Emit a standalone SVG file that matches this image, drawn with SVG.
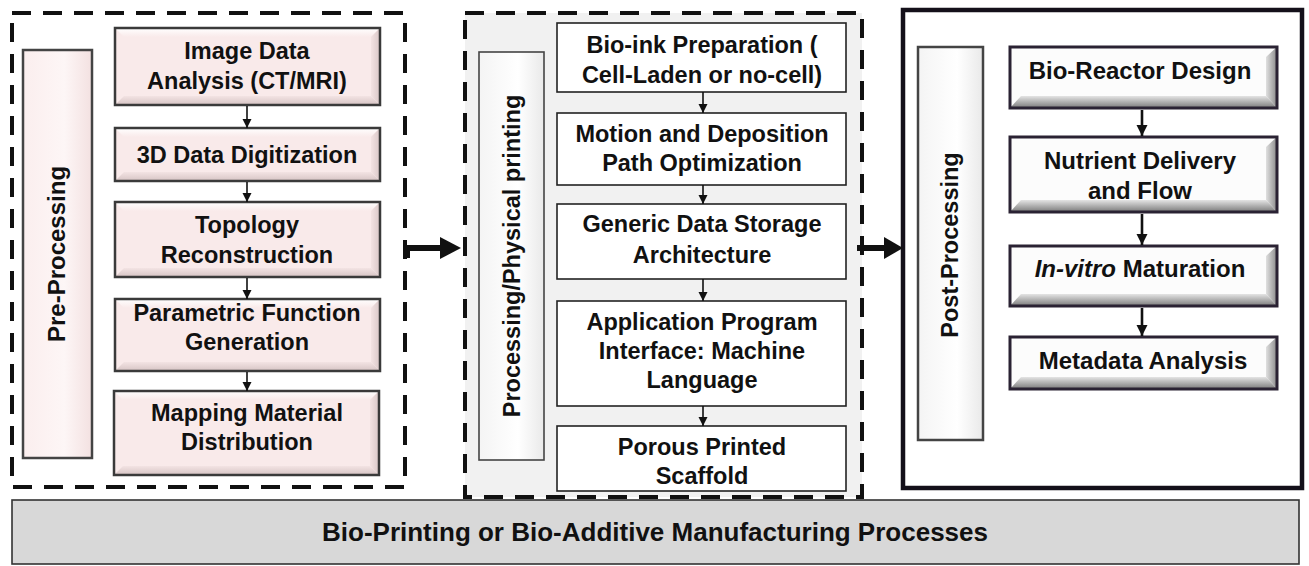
<svg xmlns="http://www.w3.org/2000/svg" width="1309" height="566" viewBox="0 0 1309 566">
<style>
text{font-family:"Liberation Sans",Arial,Helvetica,sans-serif;font-weight:bold;fill:#111;text-anchor:middle}
.t23{font-size:23.5px}
.t24{font-size:24px}
.dash{fill:none;stroke:#111;stroke-width:4;stroke-dasharray:19 12}
.pinkface{fill:#f9eaea}
.pinkborder{fill:none;stroke:#3a3a3a;stroke-width:2.5}
.whitebox{fill:#fff;stroke:#222;stroke-width:1.6}
.grayface{fill:#fcfcfc}
.grayborder{fill:none;stroke:#2a2233;stroke-width:3}
.conn{stroke:#111;stroke-width:1.6;fill:none;marker-end:url(#ah)}
.conn2{stroke:#111;stroke-width:2.6;fill:none;marker-end:url(#ah2)}
.big{stroke:#111;stroke-width:6;fill:none}
</style>
<defs>
<linearGradient id="pBot" x1="0" y1="0" x2="0" y2="1"><stop offset="0" stop-color="#f3e3e3"/><stop offset="1" stop-color="#d6c4c4"/></linearGradient>
<linearGradient id="pRight" x1="0" y1="0" x2="1" y2="0"><stop offset="0" stop-color="#f3e3e3"/><stop offset="1" stop-color="#d9c7c7"/></linearGradient>
<linearGradient id="pTop" x1="0" y1="0" x2="0" y2="1"><stop offset="0" stop-color="#ffffff"/><stop offset="1" stop-color="#f9eaea"/></linearGradient>
<linearGradient id="gBot" x1="0" y1="0" x2="0" y2="1"><stop offset="0" stop-color="#e4e4e4"/><stop offset="1" stop-color="#7a7a7a"/></linearGradient>
<linearGradient id="gRight" x1="0" y1="0" x2="1" y2="0"><stop offset="0" stop-color="#e0e0e0"/><stop offset="1" stop-color="#8a8a8a"/></linearGradient>
<linearGradient id="vPink" x1="0" y1="0" x2="1" y2="0"><stop offset="0" stop-color="#fbeeee"/><stop offset="0.6" stop-color="#fdf6f6"/><stop offset="1" stop-color="#f3e1e1"/></linearGradient>
<linearGradient id="vGray" x1="0" y1="0" x2="1" y2="0"><stop offset="0" stop-color="#f4f4f4"/><stop offset="0.6" stop-color="#ffffff"/><stop offset="1" stop-color="#e9e9e9"/></linearGradient>
<marker id="ah" markerUnits="userSpaceOnUse" markerWidth="10" markerHeight="10" refX="9" refY="5" orient="auto"><path d="M0,0.5 L9,5 L0,9.5 z" fill="#111"/></marker>
<marker id="ah2" markerUnits="userSpaceOnUse" markerWidth="12" markerHeight="12" refX="11" refY="6" orient="auto"><path d="M0,0.5 L11,6 L0,11.5 z" fill="#111"/></marker>
</defs>

<!-- containers -->
<g id="container-pre">
<rect class="dash" x="12" y="13" width="393" height="474"/>
</g>
<g id="container-proc">
<rect x="465" y="13" width="397" height="484" fill="#f1f1f1"/>
<rect class="dash" x="465" y="13" width="397" height="484"/>
</g>
<g id="container-post">
<rect x="903" y="10" width="399" height="478" fill="#fff" stroke="#14101a" stroke-width="4.5"/>
</g>

<!-- bottom bar -->
<g id="bottom-bar">
<rect x="12" y="500" width="1287" height="64" fill="#d8d8d8" stroke="#333" stroke-width="1.6"/>
<text x="655" y="541" style="font-size:26px">Bio-Printing or Bio-Additive Manufacturing Processes</text>
</g>

<!-- left column labels -->
<g id="label-pre">
<rect x="23" y="50" width="69" height="408" fill="url(#vPink)" stroke="#444" stroke-width="2.5"/>
<text class="t24" transform="translate(65,254) rotate(-90)">Pre-Processing</text>
</g>
<g id="label-proc">
<rect x="479" y="52" width="65" height="408" fill="url(#vGray)" stroke="#444" stroke-width="1.6"/>
<text class="t23" transform="translate(520,256) rotate(-90)">Processing/Physical printing</text>
</g>
<g id="label-post">
<rect x="918" y="47" width="65" height="393" fill="url(#vGray)" stroke="#444" stroke-width="2.5"/>
<text class="t23" transform="translate(958,245) rotate(-90)">Post-Processing</text>
</g>

<!-- pre-processing nodes -->
<g id="n-image">
<rect class="pinkface" x="115" y="28" width="265" height="77"/>
<polygon points="115,28 380,28 371,37 124,37" fill="url(#pTop)"/>
<polygon points="115,105 380,105 371,96 124,96" fill="url(#pBot)"/>
<polygon points="380,28 380,105 371,96 371,37" fill="url(#pRight)"/>
<rect class="pinkborder" x="115" y="28" width="265" height="77"/>
<text class="t23" x="247" y="59">Image Data</text>
<text class="t23" x="247" y="89">Analysis (CT/MRI)</text>
</g>
<g id="n-3d">
<rect class="pinkface" x="115" y="128" width="265" height="53"/>
<polygon points="115,128 380,128 371,137 124,137" fill="url(#pTop)"/>
<polygon points="115,181 380,181 371,172 124,172" fill="url(#pBot)"/>
<polygon points="380,128 380,181 371,172 371,137" fill="url(#pRight)"/>
<rect class="pinkborder" x="115" y="128" width="265" height="53"/>
<text class="t23" x="247" y="163">3D Data Digitization</text>
</g>
<g id="n-topology">
<rect class="pinkface" x="115" y="202" width="265" height="75"/>
<polygon points="115,202 380,202 371,211 124,211" fill="url(#pTop)"/>
<polygon points="115,277 380,277 371,268 124,268" fill="url(#pBot)"/>
<polygon points="380,202 380,277 371,268 371,211" fill="url(#pRight)"/>
<rect class="pinkborder" x="115" y="202" width="265" height="75"/>
<text class="t23" x="247" y="233">Topology</text>
<text class="t23" x="247" y="263">Reconstruction</text>
</g>
<g id="n-parametric">
<rect class="pinkface" x="115" y="299" width="265" height="72"/>
<polygon points="115,299 380,299 371,308 124,308" fill="url(#pTop)"/>
<polygon points="115,371 380,371 371,362 124,362" fill="url(#pBot)"/>
<polygon points="380,299 380,371 371,362 371,308" fill="url(#pRight)"/>
<rect class="pinkborder" x="115" y="299" width="265" height="72"/>
<text class="t23" x="247" y="321">Parametric Function</text>
<text class="t23" x="247" y="350">Generation</text>
</g>
<g id="n-mapping">
<rect class="pinkface" x="114" y="391" width="265" height="84"/>
<polygon points="114,391 379,391 370,400 123,400" fill="url(#pTop)"/>
<polygon points="114,475 379,475 370,466 123,466" fill="url(#pBot)"/>
<polygon points="379,391 379,475 370,466 370,400" fill="url(#pRight)"/>
<rect class="pinkborder" x="114" y="391" width="265" height="84"/>
<text class="t23" x="247" y="421">Mapping Material</text>
<text class="t23" x="247" y="450">Distribution</text>
</g>

<!-- processing nodes -->
<g id="n-bioink">
<rect class="whitebox" x="557" y="23" width="289" height="69"/>
<text class="t23" x="702" y="53">Bio-ink Preparation (</text>
<text class="t23" x="702" y="83">Cell-Laden or no-cell)</text>
</g>
<g id="n-motion">
<rect class="whitebox" x="557" y="113" width="289" height="72"/>
<text class="t23" x="702" y="142">Motion and Deposition</text>
<text class="t23" x="702" y="171">Path Optimization</text>
</g>
<g id="n-generic">
<rect class="whitebox" x="557" y="204" width="289" height="75"/>
<text class="t23" x="702" y="232">Generic Data Storage</text>
<text class="t23" x="702" y="263">Architecture</text>
</g>
<g id="n-api">
<rect class="whitebox" x="557" y="301" width="289" height="105"/>
<text class="t23" x="702" y="330">Application Program</text>
<text class="t23" x="702" y="359">Interface: Machine</text>
<text class="t23" x="702" y="388">Language</text>
</g>
<g id="n-porous">
<rect class="whitebox" x="557" y="426" width="289" height="65"/>
<text class="t23" x="702" y="455">Porous Printed</text>
<text class="t23" x="702" y="484">Scaffold</text>
</g>

<!-- post-processing nodes -->
<g id="n-bioreactor">
<rect class="grayface" x="1010" y="47" width="267" height="61"/>
<polygon points="1010,108 1277,108 1266,96 1021,96" fill="url(#gBot)"/>
<polygon points="1277,47 1277,108 1266,96 1266,57" fill="url(#gRight)"/>
<rect class="grayborder" x="1010" y="47" width="267" height="61"/>
<text class="t24" x="1140" y="79">Bio-Reactor Design</text>
</g>
<g id="n-nutrient">
<rect class="grayface" x="1010" y="137" width="267" height="75"/>
<polygon points="1010,212 1277,212 1266,200 1021,200" fill="url(#gBot)"/>
<polygon points="1277,137 1277,212 1266,200 1266,147" fill="url(#gRight)"/>
<rect class="grayborder" x="1010" y="137" width="267" height="75"/>
<text class="t24" x="1140" y="169">Nutrient Delivery</text>
<text class="t24" x="1140" y="199">and Flow</text>
</g>
<g id="n-invitro">
<rect class="grayface" x="1010" y="246" width="267" height="60"/>
<polygon points="1010,306 1277,306 1266,294 1021,294" fill="url(#gBot)"/>
<polygon points="1277,246 1277,306 1266,294 1266,256" fill="url(#gRight)"/>
<rect class="grayborder" x="1010" y="246" width="267" height="60"/>
<text class="t24" x="1140" y="277"><tspan font-style="italic">In-vitro</tspan> Maturation</text>
</g>
<g id="n-metadata">
<rect class="grayface" x="1010" y="337" width="267" height="52"/>
<polygon points="1010,389 1277,389 1266,377 1021,377" fill="url(#gBot)"/>
<polygon points="1277,337 1277,389 1266,377 1266,347" fill="url(#gRight)"/>
<rect class="grayborder" x="1010" y="337" width="267" height="52"/>
<text class="t24" x="1143" y="369">Metadata Analysis</text>
</g>

<!-- connectors -->
<g id="connectors">
<line class="conn" x1="247" y1="106" x2="247" y2="128"/>
<line class="conn" x1="247" y1="182" x2="247" y2="202"/>
<line class="conn" x1="247" y1="278" x2="247" y2="299"/>
<line class="conn" x1="247" y1="372" x2="247" y2="391"/>
<line class="conn" x1="703" y1="92" x2="703" y2="113"/>
<line class="conn" x1="703" y1="185" x2="703" y2="204"/>
<line class="conn" x1="703" y1="279" x2="703" y2="301"/>
<line class="conn" x1="703" y1="406" x2="703" y2="426"/>
<line class="conn2" x1="1142" y1="110" x2="1142" y2="136"/>
<line class="conn2" x1="1142" y1="214" x2="1142" y2="245"/>
<line class="conn2" x1="1142" y1="308" x2="1142" y2="336"/>
<path class="big" d="M407,258 L407,248 L442,248"/>
<polygon points="440,237 461,248 440,259" fill="#111"/>
<line class="big" x1="857" y1="248" x2="886" y2="248"/>
<polygon points="884,237 903,248 884,259" fill="#111"/>
</g>
</svg>
